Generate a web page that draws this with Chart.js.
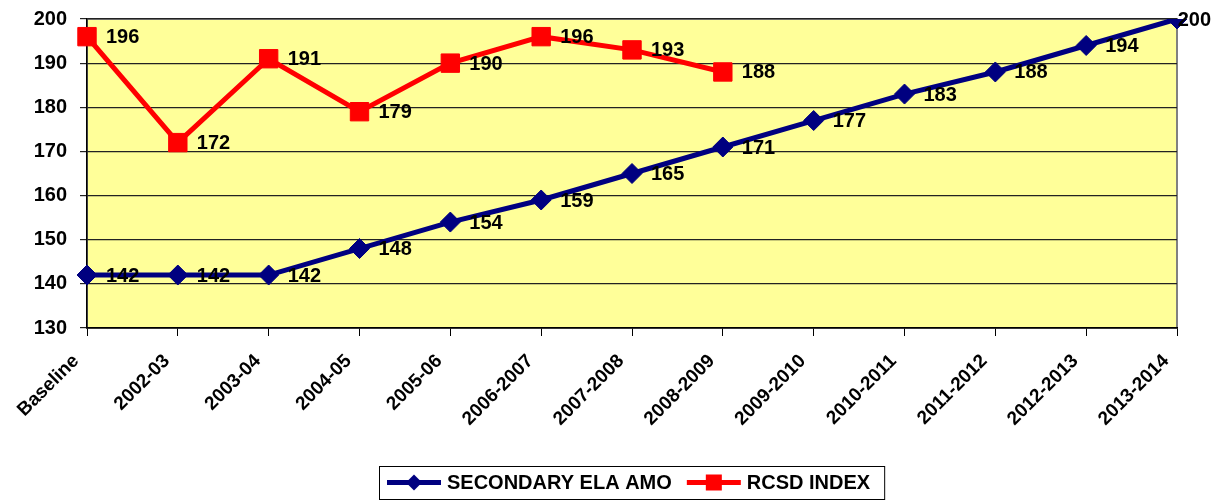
<!DOCTYPE html>
<html>
<head>
<meta charset="utf-8">
<script src="https://cdn.jsdelivr.net/npm/chart.js@4/dist/chart.umd.min.js"></script>
<style>
  html, body { margin: 0; padding: 0; background: #fff; }
  #wrap { width: 1223px; height: 500px; }
</style>
</head>
<body>
<div id="wrap"><canvas id="grafico"></canvas></div>
<script>
// dados do gráfico
const anos = ["Baseline", "2002-03", "2003-04", "2004-05", "2005-06", "2006-2007", "2007-2008",
  "2008-2009", "2009-2010", "2010-2011", "2011-2012", "2012-2013", "2013-2014"];
const amoSecundario = [142, 142, 142, 148, 154, 159, 165, 171, 177, 183, 188, 194, 200];
const indiceRcsd = [196, 172, 191, 179, 190, 196, 193, 188, null, null, null, null, null];
const nomesSeries = ["SECONDARY ELA AMO", "RCSD INDEX"];
const eixoY = { min: 130, max: 200, passo: 10 };

const AZUL = "#000080";
const VERMELHO = "#FF0000";
const FONTE = "Arial, 'Liberation Sans', sans-serif";

// fundo amarelo + moldura da área do gráfico
const fundoPlot = {
  id: "fundoPlot",
  beforeDraw(chart) {
    const { ctx, chartArea: a } = chart;
    ctx.save();
    ctx.fillStyle = "#FFFF99";
    ctx.fillRect(a.left, a.top, a.right - a.left, a.bottom - a.top);
    ctx.strokeStyle = "#808080";
    ctx.lineWidth = 2;
    ctx.strokeRect(a.left, a.top, a.right - a.left, a.bottom - a.top);
    ctx.restore();
  }
};

// rótulos de valor ao lado de cada ponto
const rotulosValor = {
  id: "rotulosValor",
  afterDatasetsDraw(chart) {
    const ctx = chart.ctx;
    ctx.save();
    ctx.font = "bold 20px " + FONTE;
    ctx.fillStyle = "#000";
    ctx.textBaseline = "middle";
    ctx.textAlign = "left";
    chart.data.datasets.forEach((ds, i) => {
      const meta = chart.getDatasetMeta(i);
      meta.data.forEach((pt, j) => {
        const v = ds.data[j];
        if (v === null || v === undefined) return;
        const txt = String(v);
        let x = pt.x + 19;
        const w = ctx.measureText(txt).width;
        if (x + w > chart.width - 12) x = chart.width - 12 - w;
        ctx.fillText(txt, x, pt.y + 1);
      });
    });
    ctx.restore();
  }
};

// legenda com moldura embaixo
const legendaCaixa = {
  id: "legendaCaixa",
  afterDraw(chart) {
    const ctx = chart.ctx;
    const a = chart.chartArea;
    ctx.save();
    ctx.font = "bold 20px " + FONTE;
    const w1 = ctx.measureText(nomesSeries[0]).width;
    const w2 = ctx.measureText(nomesSeries[1]).width;
    const linha = 54, gap = 6, entre = 15, padE = 8, padD = 14;
    const total = padE + linha + gap + w1 + entre + linha + gap + w2 + padD;
    const x0 = Math.round((a.left + a.right) / 2 - total / 2);
    const y0 = 466, h = 33;
    const cy = y0 + h / 2;

    ctx.strokeStyle = "#000";
    ctx.lineWidth = 1;
    ctx.strokeRect(x0 + 0.5, y0 + 0.5, total, h);

    let x = x0 + padE;
    // serie 1
    ctx.strokeStyle = AZUL;
    ctx.lineWidth = 5;
    ctx.beginPath(); ctx.moveTo(x, cy); ctx.lineTo(x + linha, cy); ctx.stroke();
    ctx.fillStyle = AZUL;
    ctx.beginPath();
    const mx = x + linha / 2, r = 8;
    ctx.moveTo(mx, cy - r); ctx.lineTo(mx + r, cy); ctx.lineTo(mx, cy + r); ctx.lineTo(mx - r, cy);
    ctx.closePath(); ctx.fill();
    x += linha + gap;
    ctx.fillStyle = "#000";
    ctx.textBaseline = "middle";
    ctx.fillText(nomesSeries[0], x, cy + 1);
    x += w1 + entre;
    // serie 2
    ctx.strokeStyle = VERMELHO;
    ctx.beginPath(); ctx.moveTo(x, cy); ctx.lineTo(x + linha, cy); ctx.stroke();
    ctx.fillStyle = VERMELHO;
    ctx.fillRect(x + linha / 2 - 8, cy - 8, 16, 16);
    x += linha + gap;
    ctx.fillStyle = "#000";
    ctx.fillText(nomesSeries[1], x, cy + 1);
    ctx.restore();
  }
};

new Chart(document.getElementById("grafico"), {
  type: "line",
  data: {
    labels: anos,
    datasets: [
      {
        label: nomesSeries[0],
        data: amoSecundario,
        borderColor: AZUL,
        backgroundColor: AZUL,
        borderWidth: 5,
        pointStyle: "rectRot",
        pointRadius: 10,
        pointBorderWidth: 1,
        tension: 0,
        fill: false
      },
      {
        label: nomesSeries[1],
        data: indiceRcsd,
        borderColor: VERMELHO,
        backgroundColor: VERMELHO,
        borderWidth: 5,
        pointStyle: "rect",
        pointRadius: 13,
        pointBorderWidth: 1,
        tension: 0,
        fill: false
      }
    ]
  },
  options: {
    responsive: true,
    maintainAspectRatio: false,
    animation: false,
    layout: { padding: { top: 19, right: 46, bottom: 42, left: 0 } },
    plugins: { legend: { display: false }, tooltip: { enabled: false } },
    scales: {
      x: {
        offset: false,
        grid: { drawOnChartArea: false, drawTicks: true, tickLength: 8, color: "#000" },
        border: { color: "#000", width: 1.5 },
        ticks: {
          autoSkip: false, minRotation: 45, maxRotation: 45, padding: 14, labelOffset: -11,
          color: "#000", font: { family: FONTE, size: 19, weight: "bold" }
        },
        afterFit(s) { s.height = 130; s.paddingLeft = 0; s.paddingRight = 0; }
      },
      y: {
        min: eixoY.min,
        max: eixoY.max,
        grid: { color: "#222", lineWidth: 1.2, tickLength: 7 },
        border: { color: "#000", width: 1.5 },
        ticks: {
          stepSize: eixoY.passo, padding: 13,
          color: "#000", font: { family: FONTE, size: 20, weight: "bold" }
        },
        afterFit(s) { s.width = 87; s.paddingTop = 0; s.paddingBottom = 0; }
      }
    }
  },
  plugins: [fundoPlot, rotulosValor, legendaCaixa]
});
</script>
</body>
</html>
